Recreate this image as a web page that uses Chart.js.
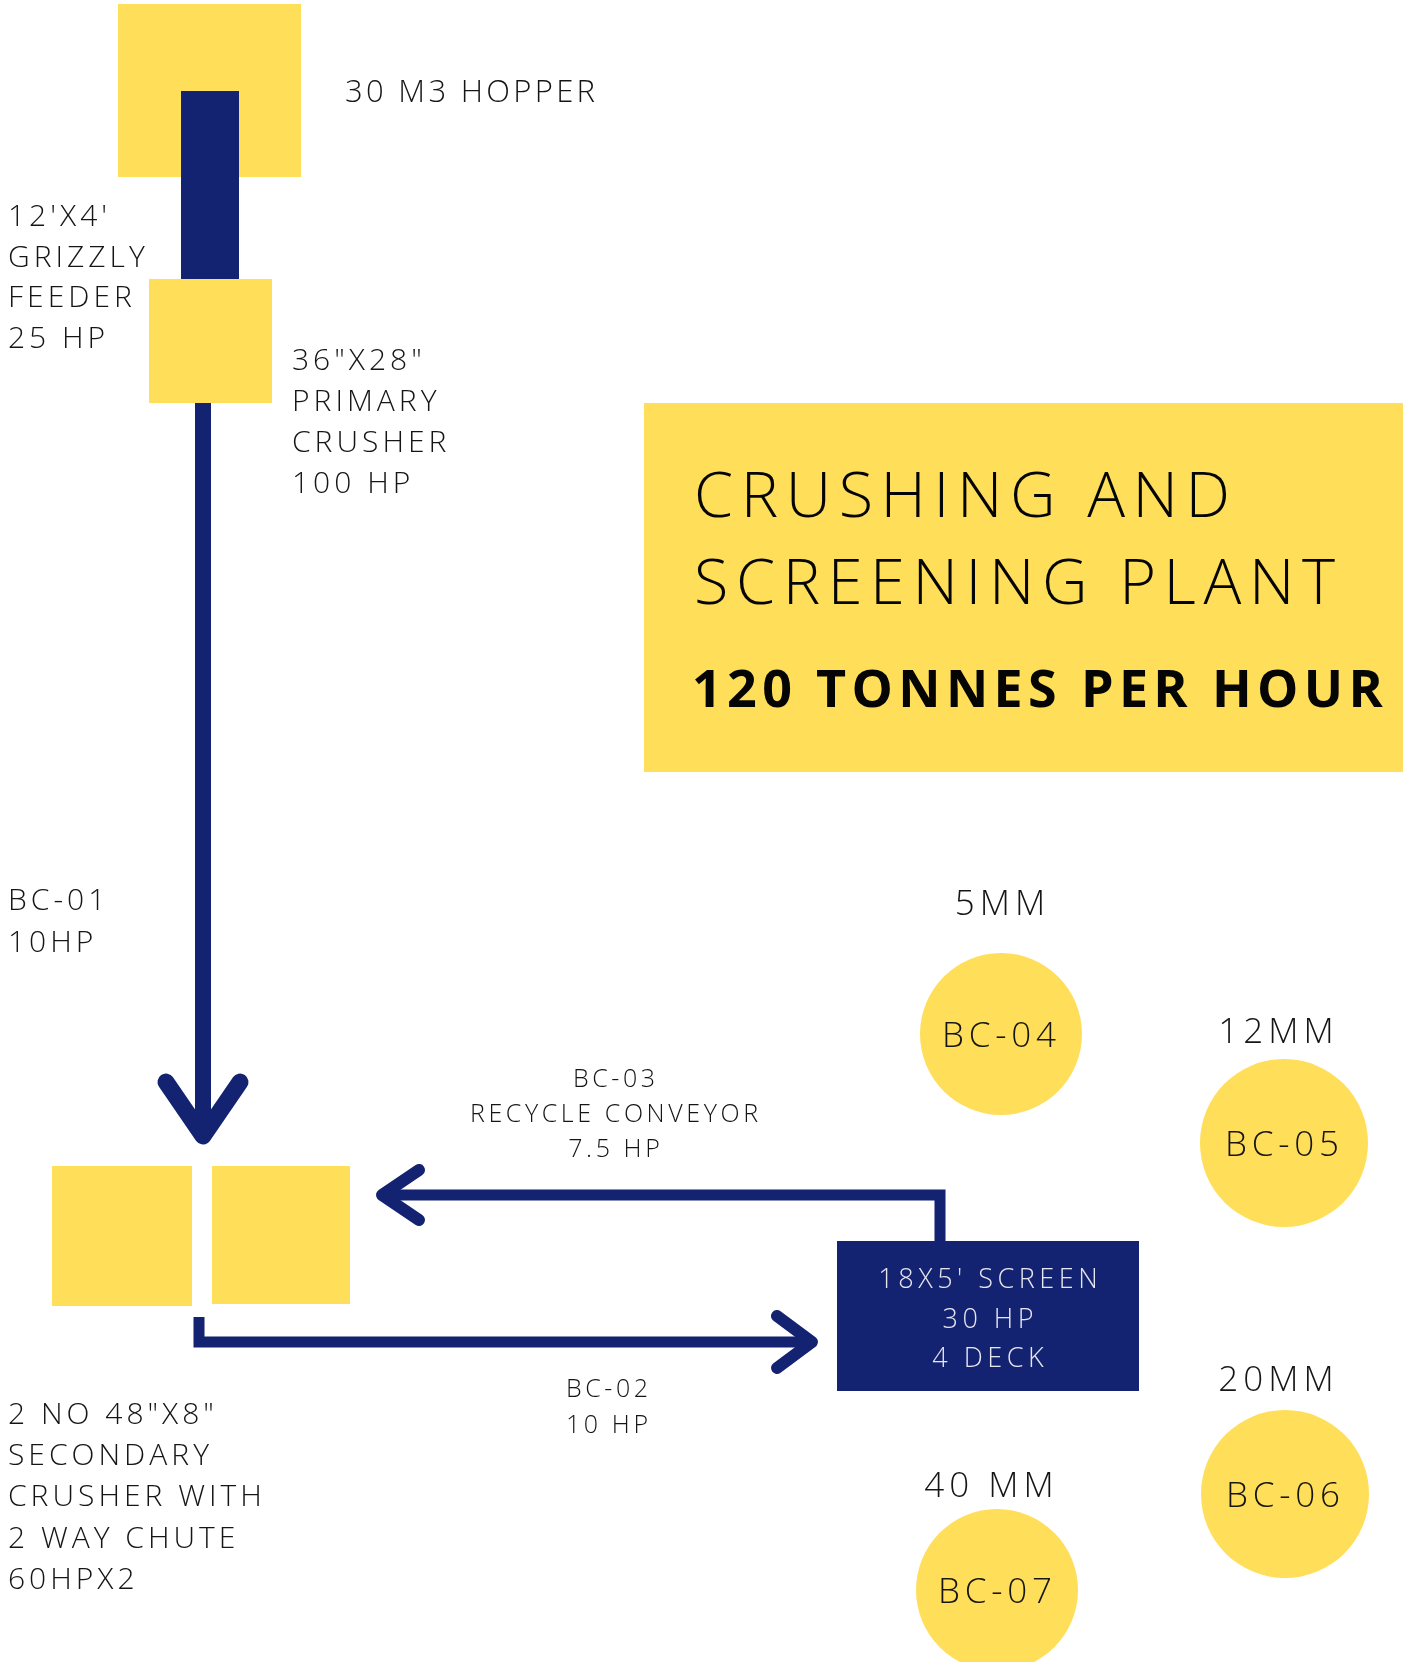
<!DOCTYPE html>
<html>
<head>
<meta charset="utf-8">
<script src="https://cdn.jsdelivr.net/npm/chart.js@4"></script>
<style>
  html, body { margin: 0; padding: 0; background: #fff; }
  #wrap { width: 1403px; height: 1662px; }
</style>
</head>
<body>
<div id="wrap"><canvas id="plant" width="1403" height="1662"></canvas></div>
<script>
// plant units (boxes) in layout units
var boxNames  = ['hopper', 'feeder', 'primary', 'secondaryA', 'secondaryB', 'title', 'screen'];
var boxLeft   = [118, 181, 149, 52, 212, 644, 837];
var boxRight  = [301, 239, 272, 192, 350, 1403, 1139];
var boxTop    = [4, 91, 279, 1166, 1166, 403, 1241];
var boxBottom = [177, 279, 403, 1306, 1304, 772, 1391];

// conveyors: belt path + arrow head
var bc01Path = [[203, 403], [203, 1134]];
var bc01Head = [[166, 1082], [203, 1136], [240, 1082]];
var bc03Path = [[940, 1241], [940, 1195], [384, 1195]];
var bc03Head = [[419, 1170], [382, 1195], [419, 1220]];
var bc02Path = [[199, 1317], [199, 1342], [810, 1342]];
var bc02Head = [[777, 1316], [812, 1342], [777, 1368]];

// product stockpile belts
var beltNames = ['BC-04', 'BC-05', 'BC-06', 'BC-07'];
var beltX = [1001, 1284, 1285, 997];
var beltY = [1034, 1143, 1494, 1590];
var beltR = [81, 84, 84, 81];
var sizeNames = ['5MM', '12MM', '20MM', '40 MM'];
var sizeX = [1000, 1276, 1276, 989];
var sizeY = [915, 1043, 1391, 1497];

// text blocks
var hopperLines    = ['30 M3 HOPPER'];
var feederLines    = ["12'X4'", 'GRIZZLY', 'FEEDER', '25 HP'];
var primaryLines   = ['36"X28"', 'PRIMARY', 'CRUSHER', '100 HP'];
var bc01Lines      = ['BC-01', '10HP'];
var secondaryLines = ['2 NO 48"X8"', 'SECONDARY', 'CRUSHER WITH', '2 WAY CHUTE', '60HPX2'];
var bc03Lines      = ['BC-03', 'RECYCLE CONVEYOR', '7.5 HP'];
var bc02Lines      = ['BC-02', '10 HP'];
var screenLines    = ["18X5' SCREEN", '30 HP', '4 DECK'];
var titleLines     = ['CRUSHING AND', 'SCREENING PLANT'];
var rateLines      = ['120 TONNES PER HOUR'];

var YELLOW = '#FFDE59';
var NAVY = '#132371';
var INK = '#151515';

var boxColors = {
  hopper: YELLOW, feeder: NAVY, primary: YELLOW, secondaryA: YELLOW,
  secondaryB: YELLOW, title: YELLOW, screen: NAVY
};

var fonts = {
  label:  { font: '300 30px "Open Sans"', spacing: 4, color: INK },
  hopper: { font: '300 31px "Open Sans"', spacing: 3.3, color: INK },
  small:  { font: '300 25px "Open Sans"', spacing: 3.6, color: INK },
  screen: { font: '300 27px "Open Sans"', spacing: 4.5, color: '#e6e6ee' },
  size:   { font: '300 35px "Open Sans"', spacing: 5, color: INK },
  belt:   { font: '300 35px "Open Sans"', spacing: 4.8, color: INK },
  title:  { font: '300 63px "Open Sans"', spacing: 7.6, color: '#050505' },
  rate:   { font: '700 52px "Open Sans"', spacing: 5.35, color: '#050505' }
};

// text blocks: lines, anchor x, first baseline, line step, align, style
var textBlocks = [
  [hopperLines, 345, 102, 0, 'left', 'hopper'],
  [feederLines, 8, 226, 40.7, 'left', 'label'],
  [primaryLines, 292, 370, 41, 'left', 'label'],
  [bc01Lines, 8, 910, 42, 'left', 'label'],
  [secondaryLines, 8, 1424, 41.2, 'left', 'label'],
  [bc03Lines, 614, 1087, 35, 'center', 'small'],
  [bc02Lines, 607, 1397, 36, 'center', 'small'],
  [screenLines, 988, 1288, 39.5, 'center', 'screen'],
  [titleLines, 694, 517, 87, 'left', 'title'],
  [rateLines, 692, 707, 0, 'left', 'rate']
];
for (var i = 0; i < sizeNames.length; i++) {
  textBlocks.push([[sizeNames[i]], sizeX[i], sizeY[i], 0, 'center', 'size']);
  textBlocks.push([[beltNames[i]], beltX[i] - 2, beltY[i] + 13, 0, 'center', 'belt']);
}

function pts(list) {
  return list.map(function(p) { return { x: p[0], y: p[1] }; });
}

function conveyor(path, width, cap) {
  return {
    type: 'line',
    data: pts(path),
    borderColor: NAVY,
    borderWidth: width,
    borderCapStyle: cap,
    borderJoinStyle: cap === 'round' ? 'round' : 'miter',
    pointRadius: 0,
    tension: 0,
    fill: false
  };
}

var boxesPlugin = {
  id: 'boxes',
  beforeDatasetsDraw: function(chart) {
    var ctx = chart.ctx, x = chart.scales.x, y = chart.scales.y;
    ctx.save();
    for (var i = 0; i < boxNames.length; i++) {
      var l = x.getPixelForValue(boxLeft[i]), r = x.getPixelForValue(boxRight[i]);
      var t = y.getPixelForValue(boxTop[i]), b = y.getPixelForValue(boxBottom[i]);
      ctx.fillStyle = boxColors[boxNames[i]];
      ctx.fillRect(l, t, r - l, b - t);
    }
    ctx.restore();
  }
};

var textPlugin = {
  id: 'texts',
  afterDatasetsDraw: function(chart) {
    var ctx = chart.ctx, x = chart.scales.x, y = chart.scales.y;
    ctx.save();
    ctx.textBaseline = 'alphabetic';
    textBlocks.forEach(function(block) {
      var st = fonts[block[5]];
      ctx.font = st.font;
      ctx.letterSpacing = st.spacing + 'px';
      ctx.fillStyle = st.color;
      ctx.textAlign = block[4];
      var shift = block[4] === 'center' ? st.spacing / 2 : 0;
      block[0].forEach(function(line, k) {
        ctx.fillText(line, x.getPixelForValue(block[1]) + shift,
                     y.getPixelForValue(block[2] + k * block[3]));
      });
    });
    ctx.restore();
  }
};

function draw() {
  new Chart(document.getElementById('plant'), {
    type: 'scatter',
    data: {
      datasets: [
        conveyor(bc01Path, 16, 'butt'),
        conveyor(bc01Head, 17, 'round'),
        conveyor(bc03Path, 11, 'butt'),
        conveyor(bc03Head, 12, 'round'),
        conveyor(bc02Path, 11, 'butt'),
        conveyor(bc02Head, 12, 'round'),
        {
          type: 'bubble',
          data: beltX.map(function(v, i) { return { x: v, y: beltY[i], r: beltR[i] }; }),
          backgroundColor: YELLOW,
          borderWidth: 0
        }
      ]
    },
    options: {
      responsive: false,
      animation: false,
      events: [],
      layout: { padding: 0, autoPadding: false },
      plugins: { legend: { display: false }, tooltip: { enabled: false } },
      scales: {
        x: { type: 'linear', min: 0, max: 1403, display: false },
        y: { type: 'linear', min: 0, max: 1662, reverse: true, display: false }
      }
    },
    plugins: [boxesPlugin, textPlugin]
  });
}

if (document.fonts && document.fonts.load) {
  Promise.all([
    document.fonts.load('300 30px "Open Sans"'),
    document.fonts.load('700 52px "Open Sans"')
  ]).then(draw, draw);
} else {
  draw();
}
</script>
</body>
</html>
